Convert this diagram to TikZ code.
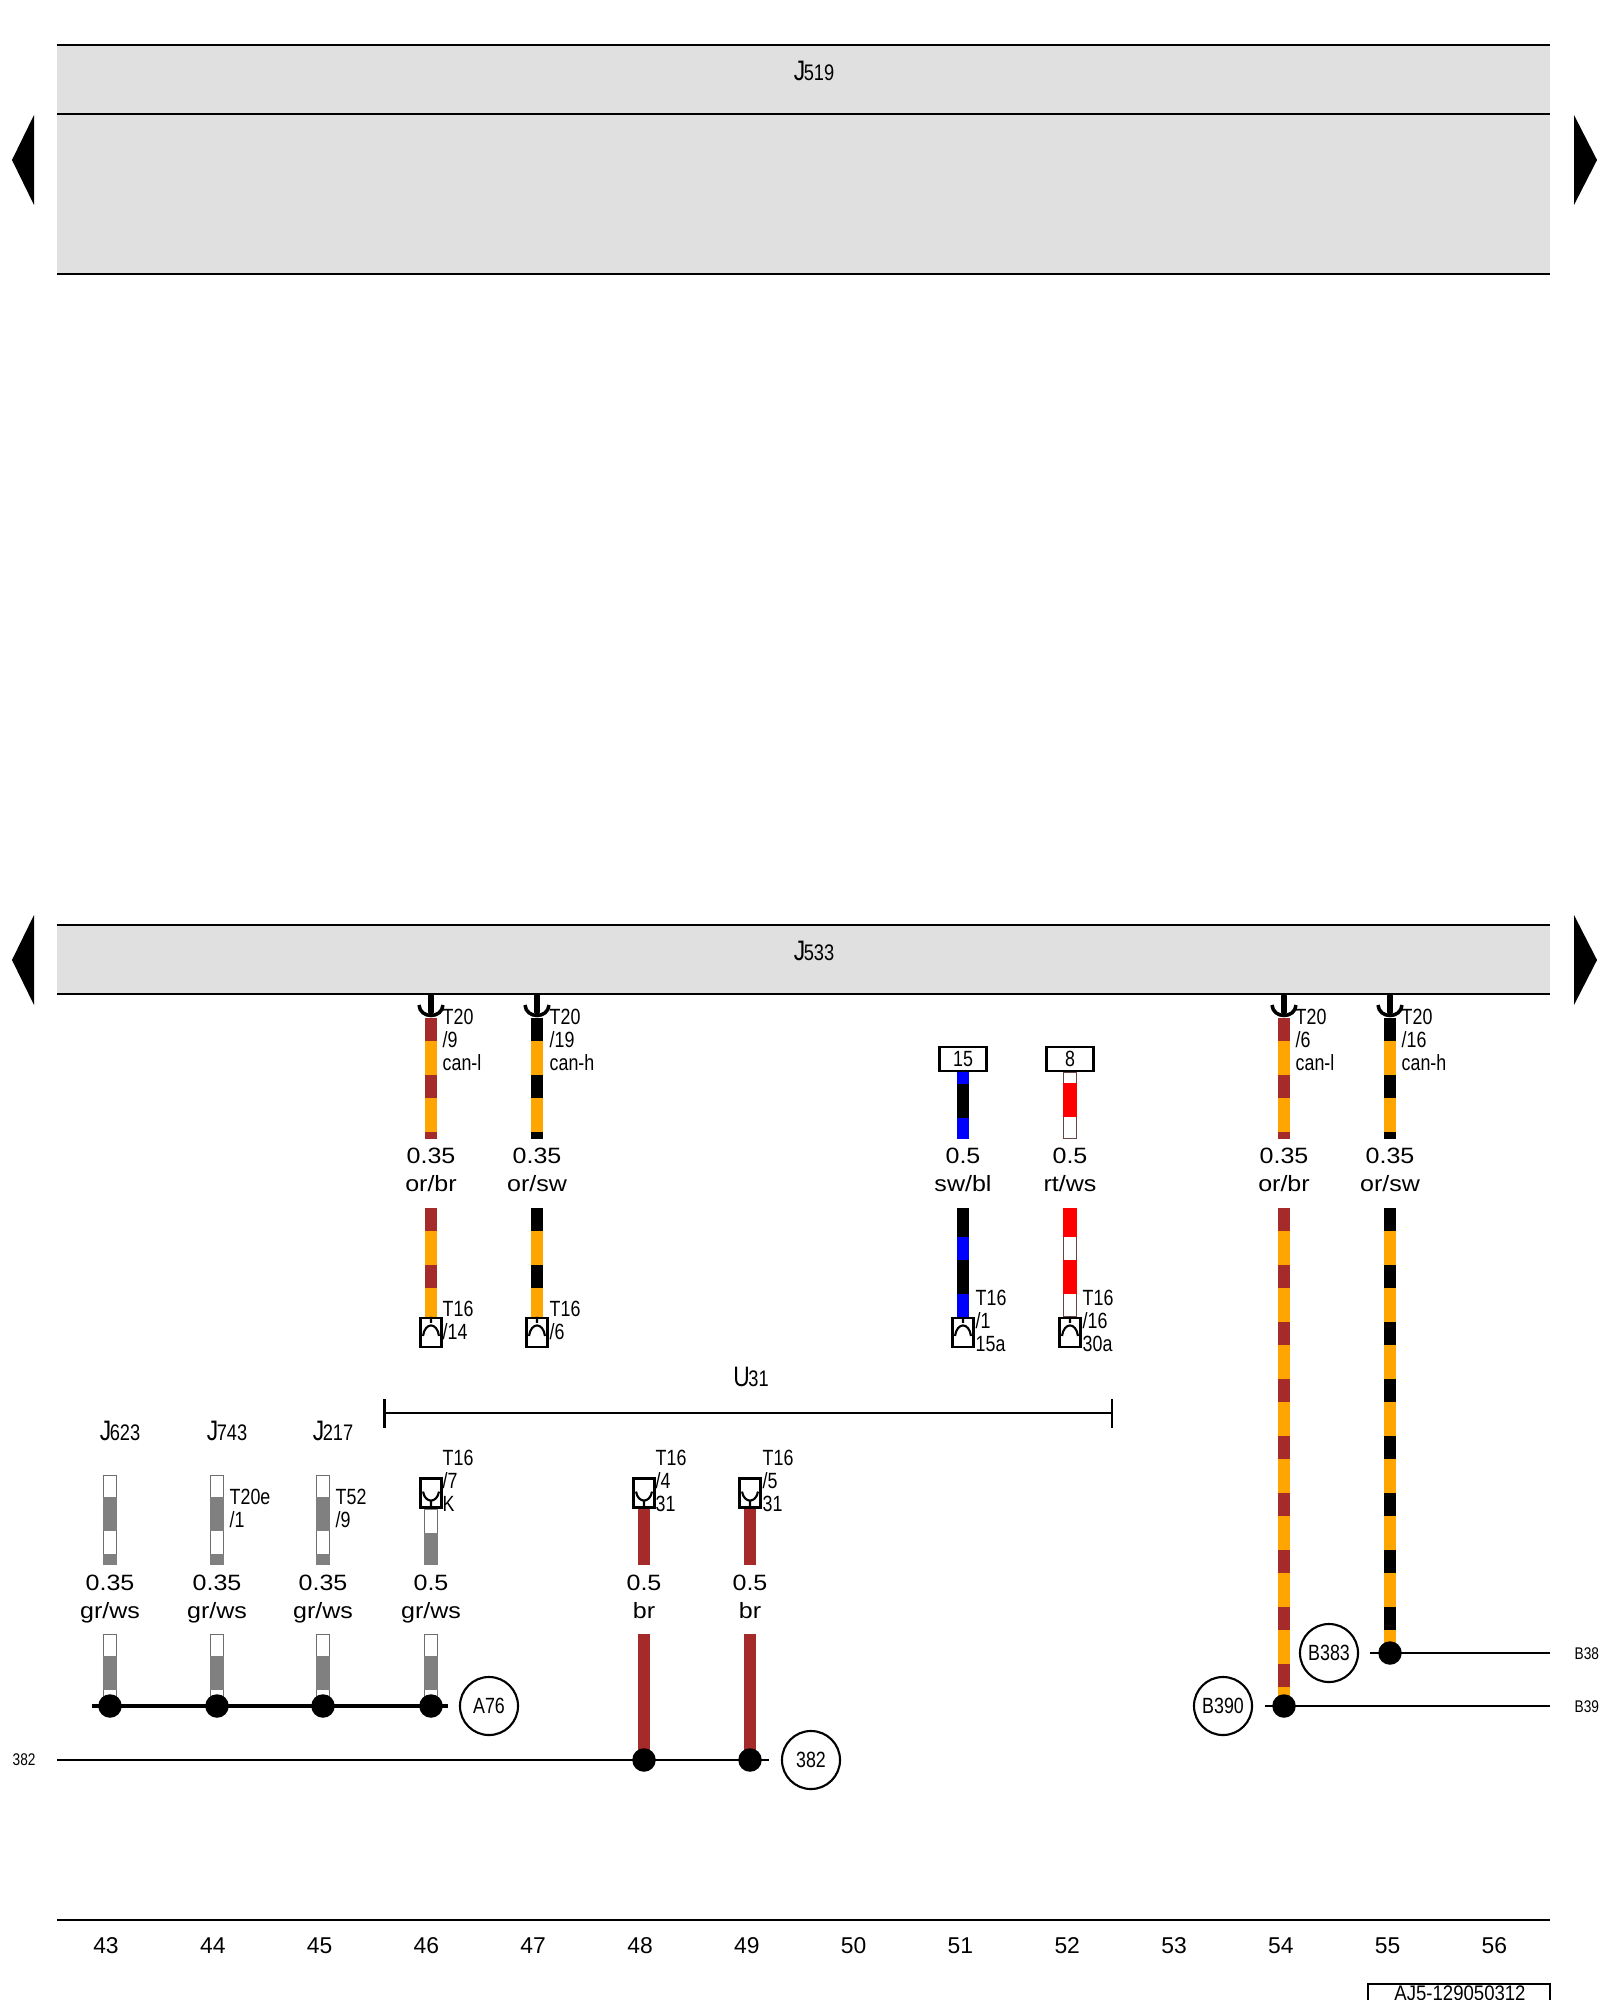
\documentclass[tikz,border=0pt]{standalone}
\usepackage{fontspec}
\usetikzlibrary{backgrounds}
\setmainfont{Liberation Sans}
\newfontfamily\narrowface[FakeStretch=0.81]{Liberation Sans}
\newfontfamily\stampface[FakeStretch=0.88]{Liberation Sans}
\newfontfamily\wideface[FakeStretch=1.13]{Liberation Sans}

\definecolor{barfill}{HTML}{E0E0E0}
\definecolor{brownwire}{HTML}{A52A2A}
\definecolor{orangewire}{HTML}{FFA500}
\definecolor{graywire}{HTML}{808080}
\definecolor{rimgray}{HTML}{6E6E6E}
\definecolor{rimred}{HTML}{6B4444}

\newcommand{\partlabel}[2]{{\fontsize{8pt}{8pt}\selectfont #1}{\kern-0.4pt\fontsize{6.4pt}{6.4pt}\selectfont #2}}
% plain wire: base colour with bands on it
\newcommand{\bandwire}[6]{%
    \draw[wirebase,#3] (#1) -- (#2);
    \draw[#4,#5,dash phase=#6] (#1) -- (#2);}
% white wire: thin rim with bands on it
\newcommand{\rimwire}[5]{%
    \draw[rimbase,#3] (#1) -- (#2);
    \draw[wirebase,white,shorten >=0.28pt,shorten <=0.28pt] (#1) -- (#2);
    \draw[bandlong,line width=3.98pt,#4,dash phase=#5] (#1) -- (#2);}

\tikzset{
    rule/.style={line width=0.6pt},
    wirebase/.style={line width=3.41pt},
    rimbase/.style={line width=3.98pt},
    bandshort/.style={line width=3.41pt, dash pattern=on 6.54pt off 9.67pt},
    bandlong/.style={line width=3.41pt, dash pattern=on 9.67pt off 6.54pt},
    splice/.style={circle, fill=black, minimum size=0.235cm, inner sep=0pt},
    tag/.style={circle, draw, rule, fill=white, minimum size=0.58cm, inner sep=0pt,
        font=\narrowface\fontsize{6.26pt}{6.5pt}\selectfont},
    pinbox/.style={draw, rule, fill=white, minimum width=0.21cm, minimum height=0.29cm, inner sep=0pt},
    fusebox/.style={draw, rule, fill=white, minimum width=0.47cm, minimum height=0.24cm, inner sep=0pt,
        font=\narrowface\fontsize{6.26pt}{6.5pt}\selectfont},
    pinlabel/.style={anchor=west, align=left, inner sep=0pt,
        font=\narrowface\fontsize{6.26pt}{6.55pt}\selectfont},
    gauge/.style={anchor=north, align=center, inner sep=0pt,
        font=\wideface\fontsize{6.3pt}{8pt}\selectfont},
    sidelabel/.style={anchor=west, inner sep=0pt,
        font=\narrowface\fontsize{4.8pt}{5pt}\selectfont},
}

\begin{document}
\begin{tikzpicture}[x=0.01cm,y=-0.01cm]
    \useasboundingbox (0,0) rectangle (1600,2000);

% control units
    \fill[barfill] (57,45) rectangle (1550,274);
    \fill[barfill] (57,925) rectangle (1550,994);
    \draw[rule] (57,45) -- (1550,45)
                (57,114) -- (1550,114)
                (57,274) -- (1550,274)
                (57,925) -- (1550,925)
                (57,994) -- (1550,994);
    \node (j519) at (814,71) {\narrowface\partlabel{J}{519}};
    \node (j533) at (814,951) {\narrowface\partlabel{J}{533}};

% page arrows
    \foreach \y in {160,960} {
        \fill (34,\y-45) -- (12,\y) -- (34,\y+45) -- cycle;
        \fill (1574,\y-45) -- (1597,\y) -- (1574,\y+45) -- cycle;
    }

% pins and splices
    \foreach \n/\x in {46/431,47/537,51/963,52/1070} {
        \node[pinbox] (pu\n) at (\x,1332.5) {};
        \draw[rule] (pu\n.north) -- ++(0,6) ++(-8,13) .. controls +(2,-14) and +(-2,-14) .. ++(16,0);
    }
    \foreach \n/\x in {46/431,48/644,49/750} {
        \node[pinbox] (pd\n) at (\x,1493) {};
        \draw[rule] (pd\n.south) -- ++(0,-8) ++(-8,-9) .. controls +(2,12) and +(-2,12) .. ++(16,0);
    }
    \node[fusebox] (f51) at (963,1059) {15};
    \node[fusebox] (f52) at (1070,1059) {8};
    \foreach \n/\x in {43/110,44/217,45/323,46/431} {
        \node[splice] (s\n) at (\x,1706) {};
    }
    \node[splice] (s48) at (644,1760) {};
    \node[splice] (s49) at (750,1760) {};
    \node[splice] (s54) at (1284,1706) {};
    \node[splice] (s55) at (1390,1653) {};

% tags
    \node[tag] (a76) at (489,1706) {A76};
    \node[tag] (t382) at (811,1760) {382};
    \node[tag] (b383) at (1329,1653) {B383};
    \node[tag] (b390) at (1223,1706) {B390};

    \begin{scope}[on background layer]
% can wires
    \foreach \n/\x/\c in {46/431/brownwire,47/537/black,54/1284/brownwire,55/1390/black} {
        \coordinate (top\n) at (\x,1018);
        \coordinate (mid\n) at (\x,1139);
        \coordinate (low\n) at (\x,1208);
        \bandwire{top\n}{mid\n}{orangewire}{bandshort}{\c}{0pt}
    }
    \bandwire{low46}{pu46.north}{orangewire}{bandshort}{brownwire}{0pt}
    \bandwire{low47}{pu47.north}{orangewire}{bandshort}{black}{0pt}
    \bandwire{low54}{s54.center}{orangewire}{bandshort}{brownwire}{0pt}
    \bandwire{low55}{s55.center}{orangewire}{bandshort}{black}{0pt}

% supply wires
    \coordinate (mid51) at (963,1139);
    \coordinate (low51) at (963,1208);
    \coordinate (mid52) at (1070,1139);
    \coordinate (low52) at (1070,1208);
    \bandwire{f51.south}{mid51}{black}{bandshort}{blue}{3.13pt}
    \bandwire{low51}{pu51.north}{black}{bandshort}{blue}{7.97pt}
    \rimwire{f52.south}{mid52}{rimred}{red}{13.09pt}
    \rimwire{low52}{pu52.north}{rimred}{red}{1.42pt}

% gr/ws wires
    \foreach \n/\x in {43/110,44/217,45/323} {
        \coordinate (up\n) at (\x,1475);
        \coordinate (end\n) at (\x,1565);
        \coordinate (low\n) at (\x,1634);
        \rimwire{up\n}{end\n}{rimgray}{graywire}{9.96pt}
        \rimwire{low\n}{s\n.center}{rimgray}{graywire}{9.96pt}
    }
    \coordinate (end46) at (431,1565);
    \coordinate (under46) at (431,1634);
    \rimwire{pd46.south}{end46}{rimgray}{graywire}{9.39pt}
    \rimwire{under46}{s46.center}{rimgray}{graywire}{9.96pt}

% ground wires
    \foreach \n/\x in {48/644,49/750} {
        \coordinate (end\n) at (\x,1565);
        \coordinate (low\n) at (\x,1634);
        \draw[wirebase,brownwire] (pd\n.south) -- (end\n);
        \draw[wirebase,brownwire] (low\n) -- (s\n.center);
    }

% bus lines
    \coordinate (busl) at (92,1706);
    \coordinate (busr) at (448,1706);
    \coordinate (lin382) at (57,1760);
    \coordinate (end382) at (769,1760);
    \coordinate (lin383) at (1370,1653);
    \coordinate (end383) at (1550,1653);
    \coordinate (lin390) at (1265,1706);
    \coordinate (end390) at (1550,1706);
    \draw[line width=0.9pt] (busl) -- (busr);
    \draw[rule] (lin382) -- (end382);
    \draw[rule] (lin383) -- (end383);
    \draw[rule] (lin390) -- (end390);
    \end{scope}

% sockets under J533
    \foreach \n in {46,47,54,55} {
        \draw[line width=1.7pt, line cap=round] (top\n) ++(0,-22) -- ++(0,16);
        \draw[line width=1pt] (top\n) ++(-12,-13) .. controls +(1,14) and +(-1,14) .. ++(24,0);
    }

% pin labels
    \node[pinlabel] (l46t) at (442,1040) {T20\\/9\\can-l};
    \node[pinlabel] (l47t) at (549,1040) {T20\\/19\\can-h};
    \node[pinlabel] (l54t) at (1295,1040) {T20\\/6\\can-l};
    \node[pinlabel] (l55t) at (1401,1040) {T20\\/16\\can-h};
    \node[pinlabel] (l46b) at (442,1320) {T16\\/14};
    \node[pinlabel] (l47b) at (549,1320) {T16\\/6};
    \node[pinlabel] (l51b) at (975,1321) {T16\\/1\\15a};
    \node[pinlabel] (l52b) at (1082,1321) {T16\\/16\\30a};
    \node[pinlabel] (l44) at (229,1508) {T20e\\/1};
    \node[pinlabel] (l45) at (335,1508) {T52\\/9};
    \node[pinlabel] (l46) at (442,1481) {T16\\/7\\K};
    \node[pinlabel] (l48) at (655,1481) {T16\\/4\\31};
    \node[pinlabel] (l49) at (762,1481) {T16\\/5\\31};

% gauge and colour
    \foreach \n/\x/\a/\b in {46/431/0.35/or\slash br,47/537/0.35/or\slash sw,
            51/963/0.5/sw\slash bl,52/1070/0.5/rt\slash ws,
            54/1284/0.35/or\slash br,55/1390/0.35/or\slash sw} {
        \node[gauge] (g\n) at (\x,1147) {\a\\\b};
    }
    \foreach \n/\x/\a/\b in {43/110/0.35/gr\slash ws,44/217/0.35/gr\slash ws,45/323/0.35/gr\slash ws,
            46/431/0.5/gr\slash ws,48/644/0.5/br,49/750/0.5/br} {
        \node[gauge] (h\n) at (\x,1574.5) {\a\\\b};
    }

% part labels
    \node (j623) at (120,1431) {\narrowface\partlabel{J}{623}};
    \node (j743) at (227,1431) {\narrowface\partlabel{J}{743}};
    \node (j217) at (333,1431) {\narrowface\partlabel{J}{217}};
    \node (u31) at (751,1377) {\narrowface\partlabel{U}{31}};

% bracket
    \coordinate (u31l) at (384.5,1413);
    \coordinate (u31r) at (1112,1413);
    \draw[rule] (u31l) -- (u31r);
    \draw[rule] (u31l) ++(0,-14) -- ++(0,29);
    \draw[rule] (u31r) ++(0,-14) -- ++(0,29);

% side references
    \node[sidelabel] (r382) at (12,1760) {382};
    \node[sidelabel] (r383) at (1574,1654) {B38};
    \node[sidelabel] (r390) at (1574,1707) {B39};

% track numbers
    \draw[rule] (57,1920) -- (1550,1920);
    \foreach \n in {43,...,56} {
        \pgfmathsetmacro{\xpos}{106+(\n-43)*106.8}
        \node[font=\fontsize{6.5pt}{6.5pt}\selectfont] (n\n) at (\xpos,1946) {\n};
    }

% drawing number
    \draw[rule] (1368,2000) -- (1368,1984) -- (1550,1984) -- (1550,2000);
    \node[inner sep=0pt, font=\stampface\fontsize{6pt}{6pt}\selectfont] (aj5) at (1460,1993) {AJ5-129050312};
\end{tikzpicture}
\end{document}
